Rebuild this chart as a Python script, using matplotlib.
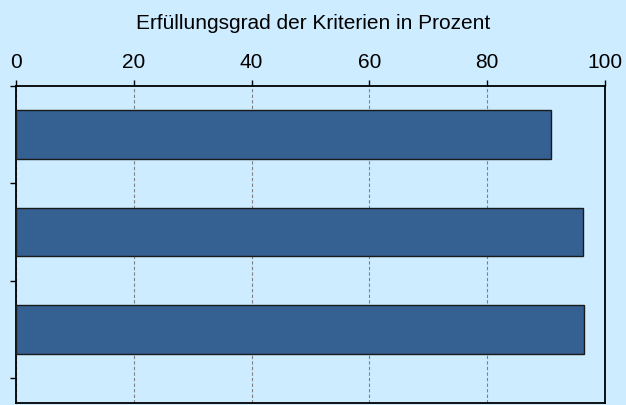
import matplotlib
matplotlib.use("Agg")
from matplotlib import pyplot as plt

plt.rcParams['font.family'] = ['Liberation Sans', 'DejaVu Sans']

# Werte (von oben nach unten)
categories = ['A', 'B', 'C']
values = [90.8, 96.3, 96.4]
xticks = [0, 20, 40, 60, 80, 100]
title = 'Erfüllungsgrad der Kriterien in Prozent'

bg = '#cdecff'
bar_color = '#346092'

fig = plt.figure(figsize=(6.26, 4.05), dpi=100, facecolor=bg)
ax = fig.add_axes([0.0256, 0.005, 0.9409, 0.7827], facecolor=bg)

pos = list(range(len(categories)))
ax.barh(pos, values, height=0.5, color=bar_color, edgecolor='#1a1a1a', linewidth=1, zorder=3)

ax.set_xlim(0, 100)
ax.set_ylim(2.756, -0.5)
ax.set_xticks(xticks)
ax.set_xticklabels([str(t) for t in xticks], fontsize=15)
ax.xaxis.tick_top()
ax.tick_params(axis='x', direction='out', length=4.3, width=1, pad=6)

fig.text(0.5, 1 - 29 / 405, title, fontsize=15, ha='center', va='baseline')

ax.set_yticks([-0.5, 0.5, 1.5, 2.5])
ax.set_yticklabels([])
ax.tick_params(axis='y', direction='out', length=4, width=1)

ax.grid(axis='x', linestyle=(0, (3, 2)), color='#808080', linewidth=0.8, zorder=0)
for s in ax.spines.values():
    s.set_color('black')
    s.set_linewidth(1.3)

fig.savefig('out.png', dpi=100, facecolor=bg)
